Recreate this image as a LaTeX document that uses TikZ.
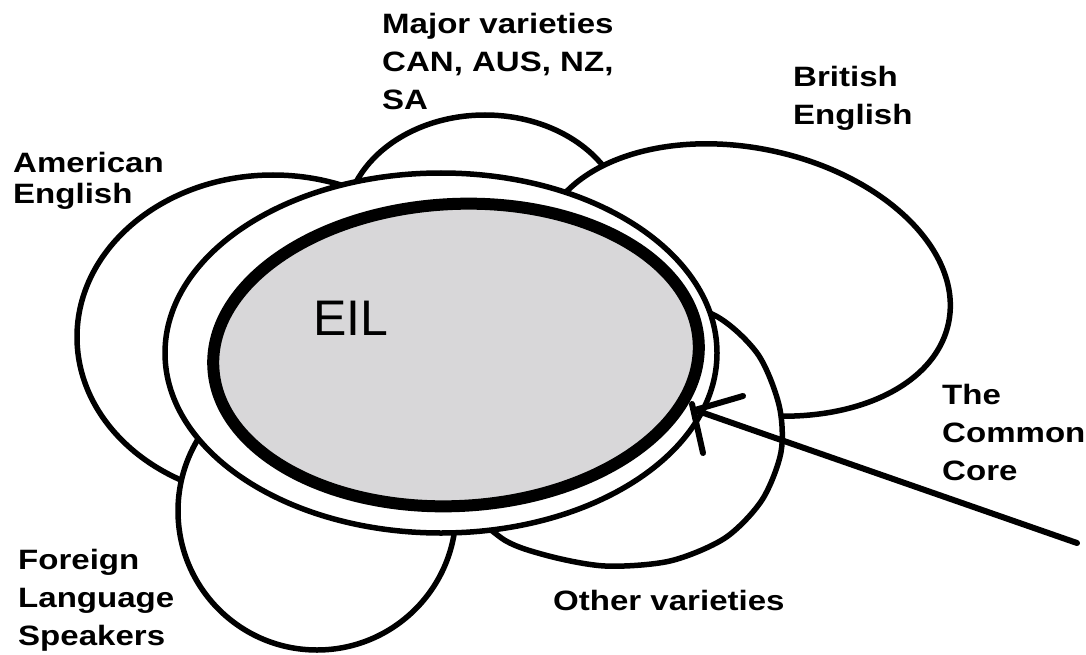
\documentclass[tikz,border=0pt]{standalone}
\usepackage{fontspec}
\newfontfamily\lblfont{Liberation Sans}[FakeStretch=1.18]
\newfontfamily\eilfont{Liberation Sans}
\definecolor{eilgray}{RGB}{216,215,217}

\begin{document}
\begin{tikzpicture}[x=1pt,y=-1pt,
    ring/.style={line width=5.5pt,fill=white},
    arrowline/.style={line width=6pt,line cap=round},
    lbl/.style={anchor=base west,inner sep=0pt,align=left,font=\lblfont\bfseries\fontsize{28}{38}\selectfont}]
    \useasboundingbox (0,0) rectangle (1086,655);
    \draw[ring] (485,225) ellipse [x radius=140, y radius=110];
    \draw[ring] (273,337) ellipse [x radius=196, y radius=162];
    \draw[ring,rotate around={-12:(745,280)}] (745,280) ellipse [x radius=208, y radius=132];
    \draw[ring] plot[smooth cycle] coordinates {(712,314) (757,353) (779,405) (781,452) (762,500) (725,538) (670,561) (605,566) (545,555) (500,537) (460,490) (480,400) (560,330) (640,300)};
    \draw[ring] (317,511) circle [radius=139];
    \draw[ring] (441,353) ellipse [x radius=276, y radius=180];
    \draw[line width=12pt,fill=eilgray,rotate around={3:(456,355)}] (456,355) ellipse [x radius=243, y radius=151];
    \node[anchor=base west,inner sep=0pt,font=\eilfont\fontsize{50}{60}\selectfont] (eil) at (313,335) {EIL};
    \coordinate (core tail) at (1077,543);
    \coordinate (core tip) at (695,410);
    \draw[arrowline] (core tail) -- (core tip);
    \draw[arrowline] (core tip) -- ++(48,-14);
    \draw[arrowline] (core tip) ++(-3,-6) -- ++(11,49);
    % base anchor sits on the last line
    \node[lbl,font=\lblfont\bfseries\fontsize{28}{32}\selectfont] (american) at (13,204) {American\\English};
    \node[lbl] (major) at (382,110) {Major varieties\\CAN, AUS, NZ,\\SA};
    \node[lbl] (british) at (793,125) {British\\English};
    \node[lbl] (foreign) at (18,645) {Foreign\\Language\\Speakers};
    \node[lbl] (other) at (553,610) {Other varieties};
    \node[lbl] (core) at (942,480) {The\\Common\\Core};
\end{tikzpicture}
\end{document}
